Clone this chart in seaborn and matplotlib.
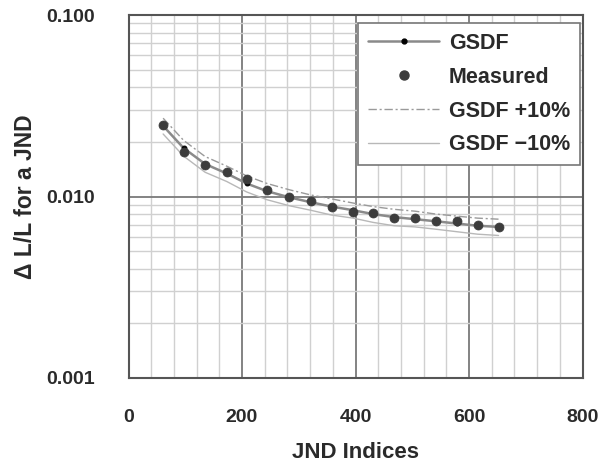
import matplotlib
matplotlib.use("Agg")
import numpy as np
import pandas as pd
import seaborn as sns
import matplotlib.pyplot as plt
from matplotlib.ticker import MultipleLocator, LogLocator, NullFormatter, FixedLocator, FixedFormatter
from matplotlib.lines import Line2D

# ---- data ----
jnd_index = [61, 97, 135, 173, 208, 244, 283, 321, 358, 396, 431, 468, 505, 542, 578, 615, 652]
gsdf = [0.0245, 0.0185, 0.0151, 0.0134, 0.0118, 0.0107, 0.0099, 0.0093, 0.0088,
        0.0084, 0.0080, 0.0077, 0.0075, 0.0073, 0.0071, 0.0069, 0.0068]
measured = [0.0248, 0.0176, 0.0150, 0.0136, 0.0125, 0.0109, 0.0099, 0.0094, 0.0087,
            0.0082, 0.0081, 0.0076, 0.0076, 0.0073, 0.0073, 0.0070, 0.0068]
gsdf_plus10 = [0.0270, 0.0204, 0.0166, 0.0147, 0.0130, 0.0118, 0.0109, 0.0102, 0.0097,
               0.0092, 0.0088, 0.0085, 0.0083, 0.0080, 0.0078, 0.0076, 0.0075]
gsdf_minus10 = [0.0221, 0.0167, 0.0136, 0.0121, 0.0106, 0.0096, 0.0089, 0.0084, 0.0079,
                0.0076, 0.0072, 0.0069, 0.0068, 0.0066, 0.0064, 0.0062, 0.0061]
x_ticks = [0, 200, 400, 600, 800]
y_ticks = [0.001, 0.01, 0.1]
y_tick_labels = ["0.001", "0.010", "0.100"]
series_labels = ["GSDF", "Measured", "GSDF +10%", "GSDF \u221210%"]

sns.set_style("white")
plt.rcParams['font.family'] = ['Liberation Sans', 'DejaVu Sans']
plt.rcParams['font.weight'] = 'bold'
text_color = '#2a2a2a'

fig = plt.figure(figsize=(5.99, 4.68), dpi=100)
ax = fig.add_axes([128.5 / 599, 1 - 378 / 468, 454 / 599, 363 / 468])

df = pd.DataFrame({"jnd": jnd_index, "gsdf": gsdf, "measured": measured,
                   "plus": gsdf_plus10, "minus": gsdf_minus10})

sns.lineplot(data=df, x="jnd", y="minus", ax=ax, color='#b8b8b8', lw=1.0, zorder=2)
sns.lineplot(data=df, x="jnd", y="plus", ax=ax, color='#9a9a9a', lw=1.0,
             linestyle=(0, (6, 2, 1.5, 2)), zorder=2)
sns.lineplot(data=df, x="jnd", y="gsdf", ax=ax, color='#8a8a8a', lw=1.8, marker='o',
             markersize=3.5, markerfacecolor='black', markeredgecolor='black', zorder=3)
sns.scatterplot(data=df, x="jnd", y="measured", ax=ax, s=42, color='#3c3c3c',
                edgecolor='#3c3c3c', marker='o', zorder=4)

ax.set_yscale('log')
ax.set_xlim(0, 800)
ax.set_ylim(0.001, 0.1)
ax.xaxis.set_major_locator(FixedLocator(x_ticks))
ax.xaxis.set_minor_locator(MultipleLocator(40))
ax.yaxis.set_major_locator(FixedLocator(y_ticks))
ax.yaxis.set_major_formatter(FixedFormatter(y_tick_labels))
ax.yaxis.set_minor_locator(LogLocator(base=10, subs=np.arange(2, 10)))
ax.yaxis.set_minor_formatter(NullFormatter())

ax.grid(which='major', color='#7a7a7a', lw=1.3, zorder=0)
ax.grid(which='minor', color='#d0d0d0', lw=1.0, zorder=0)
ax.set_axisbelow(True)

ax.tick_params(which='both', length=0)
ax.tick_params(axis='x', pad=22, labelsize=14, labelcolor=text_color)
ax.tick_params(axis='y', pad=24, labelsize=14, labelcolor=text_color)
for lab in ax.get_xticklabels() + ax.get_yticklabels():
    lab.set_fontweight('bold')

for sp in ax.spines.values():
    sp.set_color('#555555')
    sp.set_linewidth(1.5)
    sp.set_visible(True)

ax.set_xlabel("JND Indices", fontsize=16, fontweight='bold', color=text_color, labelpad=12)
ax.set_ylabel("\u0394 L/L for a JND", fontsize=16.5, fontweight='bold', color=text_color, labelpad=7)

handles = [
    Line2D([], [], color='#8a8a8a', lw=1.8, marker='o', markersize=3.5,
           markerfacecolor='black', markeredgecolor='black'),
    Line2D([], [], color='#3c3c3c', lw=0, marker='o', markersize=6.5),
    Line2D([], [], color='#9a9a9a', lw=1.0, linestyle=(0, (6, 2, 1.5, 2))),
    Line2D([], [], color='#b8b8b8', lw=1.0),
]
leg = ax.legend(handles, series_labels, loc='upper right', bbox_to_anchor=(0.994, 0.978),
                borderaxespad=0, fontsize=15.5, handlelength=3.3, labelspacing=0.6,
                frameon=True, fancybox=False, framealpha=1, edgecolor='#777777',
                borderpad=0.45, handletextpad=0.45)
leg.get_frame().set_linewidth(1.2)
for t in leg.get_texts():
    t.set_fontweight('bold')
    t.set_color(text_color)

fig.savefig("out.png", dpi=100)
